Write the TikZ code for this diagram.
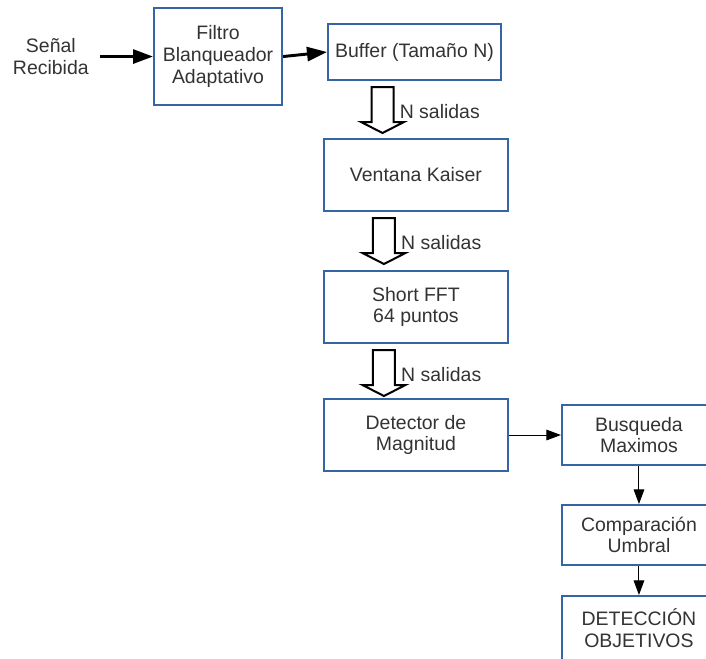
\documentclass[tikz,border=0pt]{standalone}
\usepackage{fontspec}
\setmainfont{Liberation Sans}
\usetikzlibrary{arrows.meta, positioning, calc}
\definecolor{boxblue}{HTML}{3465A4}
\definecolor{txtgray}{HTML}{333333}
\tikzset{
  procbox/.style={rectangle, draw=boxblue, fill=white, line width=1.6pt,
    align=center, minimum width=137.9pt, minimum height=53.9pt,
    font=\fontsize{14.6}{16}\selectfont, text=txtgray},
  sidebox/.style={procbox, minimum width=115.4pt, minimum height=44.9pt},
  plainlabel/.style={align=center, inner sep=0pt, text=txtgray,
    font=\fontsize{14.6}{17}\selectfont},
  thickarrow/.style={-{Triangle[length=15pt, width=10.5pt]}, line width=2.2pt, color=black},
  thinarrow/.style={-{Triangle[length=11pt, width=8pt]}, line width=0.75pt, color=black},
  hollowarrow/.style={draw=black, fill=white, line width=1.5pt, line join=miter}
}
\begin{document}
\begin{tikzpicture}
  \path[use as bounding box, clip] (0,0) rectangle (529.5pt,-493.5pt);

  % Input and whitening filter
  \node[procbox, minimum width=95.9pt, minimum height=72.65pt,
    font=\fontsize{14.6}{16.5}\selectfont] (filtro) at (163.5pt,-42.4pt)
    {Filtro\\Blanqueador\\Adaptativo};
  \node[plainlabel, left=48pt of filtro] (senal) {Señal\\Recibida};
  \coordinate[left=40pt of filtro.west] (entrada);
  \node[procbox, minimum width=129.65pt, minimum height=41.9pt,
    right=33pt of filtro, yshift=3.4pt] (buffer) {Buffer (Tamaño N)};

  % Main chain
  \node[procbox, below=42.75pt of buffer, xshift=1.1pt] (ventana) {Ventana Kaiser};
  \node[procbox, below=43.5pt of ventana] (fft) {Short FFT\\64 puntos};
  \node[procbox, below=40.5pt of fft] (detector) {Detector de\\Magnitud};

  % Side chain
  \node[sidebox, right=39pt of detector] (busqueda) {Busqueda\\Maximos};
  \node[sidebox, below=28.5pt of busqueda] (comparacion) {Comparación\\Umbral};
  \node[sidebox, minimum height=48pt, below=21.75pt of comparacion] (deteccion) {DETECCIÓN\\OBJETIVOS};

  % Arrows
  \draw[thickarrow] (entrada) -- (filtro.west);
  \draw[thickarrow] (filtro.east) -- (buffer.west);
  \foreach \up in {buffer, ventana, fft} {
    \coordinate (tail-\up) at ($(\up.south)+(-24pt,-4.5pt)$);
    \draw[hollowarrow] ($(tail-\up)+(-8.25pt,0)$) -- ++(16.5pt,0) -- ++(0,-26.25pt)
      -- ++(7.85pt,0) -- ($(tail-\up)+(0,-34.5pt)$)
      -- ($(tail-\up)+(-16.1pt,-26.25pt)$) -- ++(7.85pt,0) -- cycle;
    \node[plainlabel, anchor=west] (lbl-\up) at ($(tail-\up)+(12.75pt,-18.75pt)$) {N salidas};
  }
  \draw[thinarrow] (detector.east) -- (busqueda.west);
  \draw[thinarrow] (busqueda.south) -- (comparacion.north);
  \draw[thinarrow] (comparacion.south) -- (deteccion.north);
\end{tikzpicture}
\end{document}
